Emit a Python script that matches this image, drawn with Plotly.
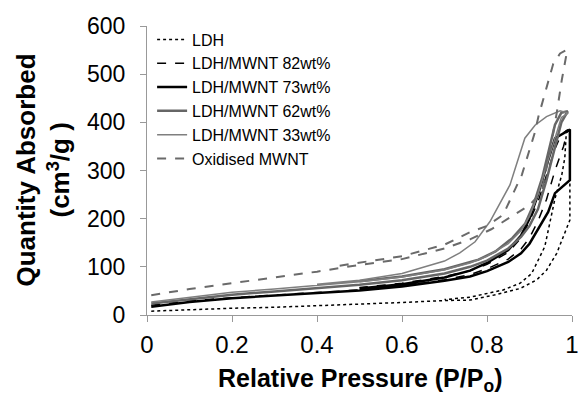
import plotly.graph_objects as go

# ---- data (relative pressure P/Po, quantity absorbed cm3/g); adsorption then desorption ----
ldh_p = [0.01, 0.1, 0.2, 0.3, 0.4, 0.5, 0.6, 0.7, 0.76, 0.82, 0.878, 0.917, 0.94, 0.964, 0.98, 0.995, 0.995,
         0.987, 0.983, 0.976, 0.96, 0.948, 0.936, 0.905, 0.878, 0.838, 0.76, 0.7]
ldh_q = [8, 11, 14, 16, 19, 23, 26, 30, 31, 42, 55, 73, 93, 128, 163, 197, 384,
         384, 326, 291, 242, 190, 142, 86, 66, 52, 37, 32]

m82_p = [0.01, 0.1, 0.2, 0.3, 0.4, 0.5, 0.6, 0.7, 0.76, 0.8, 0.85, 0.88, 0.9, 0.92, 0.94, 0.96, 0.98, 0.99,
         0.975, 0.96, 0.94, 0.92, 0.9, 0.88, 0.85, 0.8, 0.76, 0.7, 0.6, 0.5]
m82_q = [20, 29, 36, 41, 46, 52, 60, 73, 84, 96, 116, 137, 160, 195, 240, 300, 350, 385,
         375, 345, 290, 235, 195, 160, 130, 105, 92, 80, 66, 57]

m73_p = [0.01, 0.1, 0.2, 0.3, 0.4, 0.5, 0.6, 0.7, 0.76, 0.8, 0.85, 0.88, 0.9, 0.92, 0.944, 0.96, 0.995, 0.995,
         0.96, 0.94, 0.92, 0.9, 0.88, 0.85, 0.8, 0.76, 0.7, 0.6, 0.5]
m73_q = [17, 27, 35, 40, 45, 51, 59, 71, 80, 91, 110, 128, 148, 178, 214, 253, 280, 385,
         367, 310, 250, 200, 165, 135, 108, 92, 78, 64, 55]

m62_p = [0.01, 0.1, 0.2, 0.3, 0.4, 0.5, 0.6, 0.7, 0.76, 0.8, 0.85, 0.88, 0.9, 0.92, 0.94, 0.96, 0.975, 0.99,
         0.975, 0.96, 0.945, 0.93, 0.91, 0.89, 0.86, 0.82, 0.78, 0.7, 0.6, 0.5]
m62_q = [24, 33, 42, 49, 56, 63, 72, 86, 100, 113, 138, 162, 185, 220, 280, 350, 400, 423,
         420, 395, 340, 285, 230, 190, 160, 132, 115, 95, 80, 70]

m33_p = [0.01, 0.1, 0.2, 0.3, 0.4, 0.5, 0.6, 0.7, 0.76, 0.8, 0.85, 0.88, 0.9, 0.92, 0.94, 0.96, 0.975, 0.991,
         0.972, 0.94, 0.913, 0.889, 0.854, 0.807, 0.772, 0.736, 0.7, 0.6, 0.5, 0.4]
m33_q = [27, 37, 47, 54, 61, 69, 79, 94, 108, 122, 148, 175, 205, 250, 310, 370, 410, 419,
         424, 412, 394, 367, 270, 194, 152, 129, 112, 86, 72, 64]

ox_p = [0.01, 0.1, 0.2, 0.3, 0.4, 0.5, 0.6, 0.7, 0.76, 0.81, 0.86, 0.9, 0.929, 0.948, 0.964, 0.976, 0.989,
        0.972, 0.956, 0.94, 0.921, 0.913, 0.882, 0.838, 0.8, 0.76, 0.7, 0.6, 0.5, 0.45]
ox_q = [41, 54, 66, 78, 90, 104, 116, 138, 157, 178, 205, 228, 256, 340, 419, 488, 551,
        543, 522, 474, 412, 380, 291, 208, 185, 172, 146, 122, 108, 102]

x_ticks = [0, 0.2, 0.4, 0.6, 0.8, 1]
x_tick_text = ["0", "0.2", "0.4", "0.6", "0.8", "1"]
y_ticks = [0, 100, 200, 300, 400, 500, 600]

series = [
    ("LDH", ldh_p, ldh_q, dict(color="black", width=1.5, dash="dot")),
    ("LDH/MWNT 82wt%", m82_p, m82_q, dict(color="black", width=1.5, dash="dash")),
    ("LDH/MWNT 73wt%", m73_p, m73_q, dict(color="black", width=2.5, dash="solid")),
    ("LDH/MWNT 62wt%", m62_p, m62_q, dict(color="#666666", width=2.5, dash="solid")),
    ("LDH/MWNT 33wt%", m33_p, m33_q, dict(color="#7f7f7f", width=1.5, dash="solid")),
    ("Oxidised MWNT", ox_p, ox_q, dict(color="#6a6a6a", width=2, dash="dash")),
]

FONT = "Liberation Sans, Arial, sans-serif"

fig = go.Figure()
for name, p, q, line in series:
    fig.add_trace(go.Scatter(x=p, y=q, mode="lines", name=name, line=line))

fig.update_layout(
    width=578, height=402,
    margin=dict(l=147, r=6, t=26, b=87, autoexpand=False),
    paper_bgcolor="white", plot_bgcolor="white",
    font=dict(family=FONT, color="black"),
    showlegend=True,
    legend=dict(x=0.012, y=1.012, xanchor="left", yanchor="top",
                bgcolor="rgba(0,0,0,0)", font=dict(size=16, family=FONT),
                itemwidth=30, tracegroupgap=0),
)
fig.update_xaxes(range=[0, 1], tickvals=x_ticks, ticktext=x_tick_text, automargin=False,
                 showgrid=False, zeroline=False, showline=True, linecolor="#999999", linewidth=1,
                 ticks="outside", ticklen=6, tickcolor="#999999", ticklabeloverflow="allow",
                 ticklabelstandoff=2,
                 tickfont=dict(size=24, family=FONT, color="black"))
fig.update_yaxes(range=[0, 600], tickvals=y_ticks, automargin=False,
                 showgrid=False, zeroline=False, showline=True, linecolor="#999999", linewidth=1,
                 ticks="outside", ticklen=6, tickcolor="#999999", ticklabeloverflow="allow",
                 ticklabelstandoff=10,
                 tickfont=dict(size=23, family=FONT, color="black"))

fig.add_annotation(text="<b>Relative Pressure (P/P<sub>o</sub>)</b>", xref="paper", yref="paper",
                   x=0.5, y=-0.225, xanchor="center", yanchor="middle", showarrow=False,
                   font=dict(size=25, family=FONT, color="black"))
fig.add_annotation(text="<b>Quantity Absorbed</b>", xref="paper", yref="paper",
                   x=-0.287, y=0.5, xanchor="center", yanchor="middle", textangle=-90, showarrow=False,
                   font=dict(size=26, family=FONT, color="black"))
fig.add_annotation(text="<b>(cm<sup>3</sup>/g )</b>", xref="paper", yref="paper",
                   x=-0.207, y=0.5, xanchor="center", yanchor="middle", textangle=-90, showarrow=False,
                   font=dict(size=26, family=FONT, color="black"))

fig.write_html("out.html", config={"displayModeBar": False},
               post_script="document.body.style.margin='0';document.body.style.overflow='hidden';")
